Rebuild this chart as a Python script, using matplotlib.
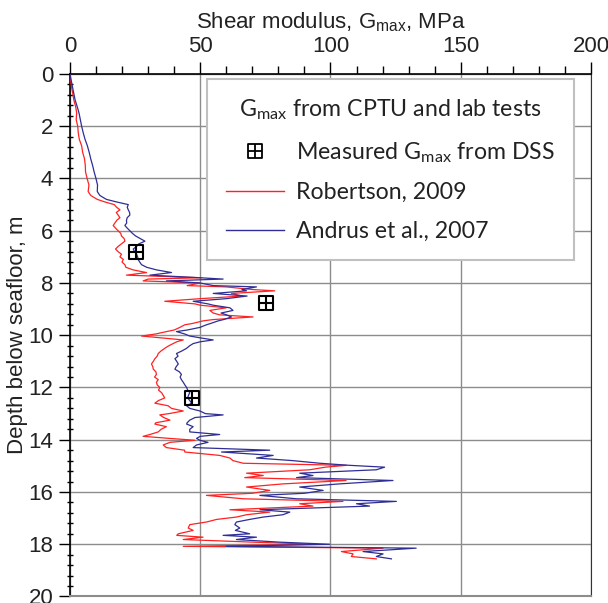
import numpy as np
import matplotlib.pyplot as plt
from matplotlib.path import Path
from matplotlib.lines import Line2D
from matplotlib.ticker import MultipleLocator

plt.rcParams['font.family'] = ['Liberation Sans', 'DejaVu Sans']

# depth below seafloor (m) and Gmax (MPa)
depth = [0.0, 0.25, 0.5, 0.75, 1.0, 1.25, 1.5, 1.75, 2.0, 2.25, 2.5, 2.75, 3.0, 3.25, 3.5, 3.75,
         4.0, 4.25, 4.5, 4.65, 4.8, 4.9, 5.0, 5.1, 5.2, 5.3, 5.4, 5.5, 5.6, 5.7, 5.8, 5.9,
         6.0, 6.1, 6.2, 6.3, 6.4, 6.5, 6.6, 6.7, 6.8, 6.9, 7.0, 7.1, 7.2, 7.3, 7.4, 7.5,
         7.6, 7.7, 7.8, 7.85, 7.92, 8.0, 8.1, 8.15, 8.25, 8.3, 8.4, 8.5, 8.6, 8.7, 8.8, 8.85,
         8.95, 9.05, 9.15, 9.22, 9.3, 9.4, 9.45, 9.55, 9.6, 9.7, 9.8, 9.86, 9.95, 10.03, 10.1, 10.18,
         10.25, 10.32, 10.4, 10.5, 10.6, 10.7, 10.8, 10.9, 11.0, 11.1, 11.2, 11.3, 11.4, 11.5, 11.6, 11.7,
         11.8, 11.9, 12.0, 12.1, 12.2, 12.3, 12.4, 12.5, 12.6, 12.7, 12.8, 12.9, 13.0, 13.05, 13.15, 13.25,
         13.35, 13.4, 13.5, 13.6, 13.7, 13.8, 13.87, 13.95, 14.02, 14.1, 14.2, 14.3, 14.4, 14.47, 14.6, 14.7,
         14.8, 14.9, 14.98, 15.05, 15.15, 15.28, 15.37, 15.45, 15.56, 15.69, 15.81, 15.94, 16.05, 16.13, 16.26, 16.36,
         16.45, 16.54, 16.68, 16.77, 16.87, 16.96, 17.05, 17.15, 17.25, 17.38, 17.47, 17.6, 17.66, 17.73, 17.82, 17.92,
         18.0, 18.08, 18.15, 18.28, 18.37, 18.47, 18.56]

g_robertson = [0, 0.3, 0.6, 1.1, 1.5, 2.2, 2.6, 2.4, 3.0, 3.2, 3.6, 4.5, 4.9, 5.6, 5.9, 6.0,
               6.6, 7.3, 7.0, 8.0, 10.5, 13.5, 17.0, 17.9, 19.2, 17.8, 18.5, 19.2, 18.0, 17.3, 16.6, 17.5,
               18.5, 19.5, 19.8, 20.8, 21.1, 19.8, 18.5, 17.5, 18.5, 19.8, 19.2, 20.5, 20.0, 21.1, 21.5, 24.3,
               29.4, 21.7, 50.5, 30.0, 28.1, 50.0, 45.0, 60.0, 70.0, 78.6, 62.0, 66.0, 50.0, 36.4, 48.0, 50.0,
               60.0, 53.7, 55.0, 57.5, 70.3, 55.0, 51.1, 47.0, 44.1, 42.2, 40.0, 37.1, 33.0, 27.5, 35.0, 43.5,
               41.0, 39.6, 38.0, 36.4, 35.0, 33.9, 33.5, 32.6, 32.0, 31.3, 31.8, 32.0, 33.0, 33.2, 32.5, 33.9,
               33.2, 33.5, 34.5, 34.0, 35.2, 35.8, 36.4, 34.0, 32.6, 37.7, 39.0, 43.5, 38.0, 34.5, 36.0, 38.4,
               33.0, 32.6, 37.0, 35.0, 33.9, 30.7, 28.1, 38.4, 48.0, 38.4, 35.8, 37.0, 44.0, 44.1, 57.5, 61.4,
               62.6, 66.5, 106.1, 98.0, 92.0, 67.8, 74.2, 67.1, 106.0, 81.8, 67.8, 76.7, 70.0, 52.4, 66.5, 104.8,
               88.2, 93.3, 61.4, 76.7, 67.8, 63.9, 56.3, 52.4, 46.0, 45.4, 47.3, 41.6, 41.0, 51.1, 43.5, 70.3,
               94.6, 43.5, 120.2, 104.2, 108.7, 108.0, 117.6]

g_andrus = [0, 0.5, 1.0, 1.5, 2.0, 2.8, 3.5, 4.0, 4.5, 5.1, 5.8, 6.7, 7.4, 8.0, 8.7, 9.3,
            10.0, 10.6, 10.5, 11.5, 14.0, 18.0, 22.4, 22.0, 22.4, 22.9, 23.0, 22.0, 21.7, 21.8, 21.1, 22.0,
            23.0, 24.0, 25.2, 27.0, 28.8, 26.5, 25.6, 24.3, 24.8, 25.6, 26.0, 26.2, 26.8, 27.5, 29.5, 33.3,
            39.0, 30.7, 50.0, 58.8, 37.0, 50.0, 55.0, 71.6, 66.0, 67.8, 55.0, 68.0, 60.0, 47.3, 53.0, 55.0,
            61.4, 62.6, 58.0, 60.1, 62.0, 59.0, 56.9, 54.0, 52.4, 49.9, 45.0, 40.9, 44.0, 46.0, 50.0, 55.0,
            50.0, 47.3, 46.0, 44.8, 43.0, 40.9, 41.5, 40.3, 41.0, 41.6, 40.8, 40.3, 42.0, 42.8, 42.3, 42.8,
            43.5, 44.1, 44.8, 45.2, 46.0, 45.5, 45.2, 46.0, 46.7, 44.8, 46.0, 49.9, 52.0, 58.8, 48.0, 46.0,
            45.0, 44.8, 47.3, 46.0, 46.0, 57.5, 50.0, 48.6, 49.9, 53.0, 48.6, 47.3, 76.7, 58.2, 78.0, 71.6,
            85.6, 95.9, 107.4, 120.8, 117.6, 88.2, 93.3, 87.0, 124.0, 103.5, 88.2, 97.2, 90.0, 72.9, 86.9, 125.3,
            110.0, 115.0, 72.9, 84.4, 81.8, 74.2, 69.0, 63.9, 63.3, 65.2, 63.5, 69.0, 58.8, 71.6, 63.9, 80.5,
            99.7, 60.0, 132.9, 112.5, 120.2, 117.6, 123.4]

# DSS measurements
dss_g = [25.2, 75.4, 46.9]
dss_depth = [6.83, 8.75, 12.39]

# square with a cross inside
box_plus = Path([(-1, -1), (1, -1), (1, 1), (-1, 1), (-1, -1), (0, -1), (0, 1), (-1, 0), (1, 0)],
                [Path.MOVETO, Path.LINETO, Path.LINETO, Path.LINETO, Path.CLOSEPOLY,
                 Path.MOVETO, Path.LINETO, Path.MOVETO, Path.LINETO])

fig = plt.figure(figsize=(6.08, 6.03), dpi=100)
ax = fig.add_axes([0.115, 0.0108, 0.857, 0.8665])

red = '#ff2222'
blue = '#2e2e96'
ax.plot(g_robertson, depth, color=red, lw=0.9, zorder=3)
ax.plot(g_andrus, depth, color=blue, lw=0.9, zorder=3)
ax.plot(dss_g, dss_depth, ls='none', marker=box_plus, ms=10, mew=1.5, mec='black', mfc='none', zorder=4)

ax.set_xlim(0, 200)
ax.set_ylim(20, 0)
ax.xaxis.tick_top()
ax.xaxis.set_label_position('top')
ax.xaxis.set_major_locator(MultipleLocator(50))
ax.xaxis.set_minor_locator(MultipleLocator(10))
ax.yaxis.set_major_locator(MultipleLocator(2))
ax.yaxis.set_minor_locator(MultipleLocator(0.4))
ax.tick_params(axis='x', which='major', direction='out', length=9, width=1, labelsize=16, pad=3, labelcolor='#222222')
ax.tick_params(axis='x', which='minor', direction='out', length=6, width=1)
ax.tick_params(axis='y', which='major', direction='out', length=8, width=1, labelsize=16, pad=4, labelcolor='#222222')
ax.tick_params(axis='y', which='minor', direction='inout', length=5, width=1)

ax.grid(True, which='major', color='#8c8c8c', lw=1)
ax.set_axisbelow(True)
for s in ['left', 'top']:
    ax.spines[s].set_color('black')
    ax.spines[s].set_linewidth(1.2)
ax.spines['right'].set_color('#333333')
ax.spines['right'].set_linewidth(0.8)
ax.spines['bottom'].set_color('#8c8c8c')
ax.spines['bottom'].set_linewidth(1.5)

ax.set_xlabel('Shear modulus, G$_{\\mathregular{max}}$, MPa', fontsize=16, labelpad=6, color='#222222')
ax.set_ylabel('Depth below seafloor, m', fontsize=16, labelpad=0, color='#222222')

handles = [Line2D([], [], ls='none', marker=box_plus, ms=10, mew=1.3, mec='black', mfc='none'),
           Line2D([], [], color=red, lw=1),
           Line2D([], [], color=blue, lw=1)]
labels = ['Measured G$_{\\mathregular{max}}$ from DSS', 'Robertson, 2009', 'Andrus et al., 2007']
leg = ax.legend(handles, labels, title='G$_{\\mathregular{max}}$ from CPTU and lab tests',
                loc='upper right', bbox_to_anchor=(0.967, 0.991),
                prop={'family': 'Lato', 'size': 16.7}, title_fontproperties={'family': 'Lato', 'size': 16.7},
                frameon=True, fancybox=False, framealpha=1, edgecolor='#c0c0c0',
                handlelength=2.5, handletextpad=0.55, labelspacing=0.76, borderpad=0.8, borderaxespad=0)
leg.get_frame().set_linewidth(1.5)
for t in leg.get_texts() + [leg.get_title()]:
    t.set_color('#222222')

fig.savefig('out.png', dpi=100)
